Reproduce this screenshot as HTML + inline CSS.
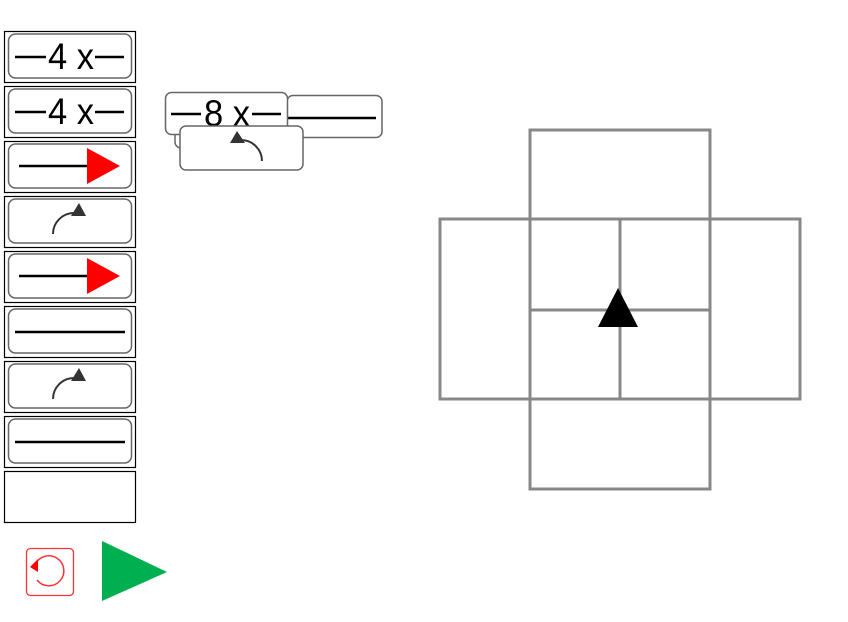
<!DOCTYPE html>
<html><head><style>html,body{margin:0;padding:0;background:#fff;width:848px;height:622px;overflow:hidden}</style></head>
<body>
<svg width="848" height="622" viewBox="0 0 848 622" xmlns="http://www.w3.org/2000/svg" font-family="Liberation Sans, sans-serif">
<defs>
<g id="blk"><rect x="8.5" y="3" width="123" height="44" rx="7" fill="#fff" stroke="#666" stroke-width="1.5"/></g>
<g id="rr"><path d="M53,234 A21,21 0 0 1 74,213" fill="none" stroke="#333" stroke-width="2"/><polygon points="71,216 86,216 79,203" fill="#333"/></g>
</defs>
<g fill="#fff" stroke="#000" stroke-width="1.2">
<rect x="4.5" y="31.5" width="131" height="51"/>
<rect x="4.5" y="86.5" width="131" height="51"/>
<rect x="4.5" y="141.5" width="131" height="51"/>
<rect x="4.5" y="196.5" width="131" height="51"/>
<rect x="4.5" y="251.5" width="131" height="51"/>
<rect x="4.5" y="306.5" width="131" height="51"/>
<rect x="4.5" y="361.5" width="131" height="51"/>
<rect x="4.5" y="416.5" width="131" height="51"/>
<rect x="4.5" y="471.5" width="131" height="51"/>
</g>
<g transform="translate(0,31)"><use href="#blk"/>
<line x1="15" y1="26" x2="46" y2="26" stroke="#000" stroke-width="2.5"/><line x1="95" y1="26" x2="124" y2="26" stroke="#000" stroke-width="2.5"/>
<text x="48" y="38" font-size="37" textLength="46" lengthAdjust="spacingAndGlyphs">4 x</text></g>
<g transform="translate(0,86)"><use href="#blk"/>
<line x1="15" y1="26" x2="46" y2="26" stroke="#000" stroke-width="2.5"/><line x1="95" y1="26" x2="124" y2="26" stroke="#000" stroke-width="2.5"/>
<text x="48" y="38" font-size="37" textLength="46" lengthAdjust="spacingAndGlyphs">4 x</text></g>
<g transform="translate(0,141)"><use href="#blk"/>
<line x1="19" y1="25" x2="88" y2="25" stroke="#000" stroke-width="2.5"/><polygon points="87,7 120,25 87,43" fill="#f00"/></g>
<g transform="translate(0,196)"><use href="#blk"/><g transform="translate(0,-196)"><use href="#rr"/></g></g>
<g transform="translate(0,251)"><use href="#blk"/>
<line x1="19" y1="25" x2="88" y2="25" stroke="#000" stroke-width="2.5"/><polygon points="87,7 120,25 87,43" fill="#f00"/></g>
<g transform="translate(0,306)"><use href="#blk"/><line x1="15" y1="26" x2="125" y2="26" stroke="#000" stroke-width="2.5"/></g>
<g transform="translate(0,361)"><use href="#blk"/><g transform="translate(0,-196)"><use href="#rr"/></g></g>
<g transform="translate(0,416)"><use href="#blk"/><line x1="15" y1="26" x2="125" y2="26" stroke="#000" stroke-width="2.5"/></g>
<rect x="287" y="95.5" width="95" height="42" rx="6" fill="#fff" stroke="#666" stroke-width="1.5"/>
<line x1="288" y1="118" x2="376" y2="118" stroke="#000" stroke-width="2.5"/>
<rect x="175" y="120" width="40" height="28" rx="6" fill="#fff" stroke="#666" stroke-width="1.5"/>
<rect x="165.5" y="92.5" width="122" height="42" rx="6" fill="#fff" stroke="#666" stroke-width="1.5"/>
<line x1="171" y1="114" x2="201" y2="114" stroke="#000" stroke-width="2.5"/><line x1="252" y1="114" x2="281" y2="114" stroke="#000" stroke-width="2.5"/>
<text x="204" y="126" font-size="37" textLength="46" lengthAdjust="spacingAndGlyphs">8 x</text>
<rect x="180" y="126" width="123" height="44" rx="6" fill="#fff" stroke="#666" stroke-width="1.5"/>
<path d="M262,161 A21,21 0 0 0 241,140" fill="none" stroke="#333" stroke-width="2"/>
<polygon points="245,143 230,143 237,131" fill="#333"/>
<g fill="none" stroke="#888" stroke-width="3">
<rect x="530" y="130" width="180" height="89"/>
<rect x="440" y="219" width="360" height="180"/>
<rect x="530" y="399" width="180" height="90"/>
<line x1="530" y1="219" x2="530" y2="399"/><line x1="710" y1="219" x2="710" y2="399"/>
<line x1="620" y1="219" x2="620" y2="399"/><line x1="530" y1="310" x2="710" y2="310"/>
</g>
<polygon points="618,288 638,327 598,327" fill="#000"/>
<rect x="26.5" y="548.5" width="47" height="47" rx="4" fill="#fff" stroke="#f33" stroke-width="1.3"/>
<path d="M35,565 A15,15 0 1 1 37,580" fill="none" stroke="#f33" stroke-width="1.5"/>
<polygon points="30,567 38,559 38,572" fill="#f00"/>
<polygon points="102,541 167,572 102,601" fill="#00b050"/>
</svg>
</body></html>
